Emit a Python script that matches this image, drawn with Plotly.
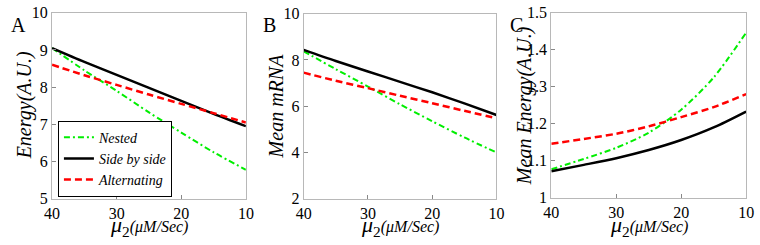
import plotly.graph_objects as go

mu2 = [40, 35, 30, 25, 20, 15, 10]
x_ticks = [40, 30, 20, 10]

# Panel A: Energy (A.U.)
energy_nested = [9.05, 8.45, 7.90, 7.32, 6.78, 6.25, 5.78]
energy_side = [9.05, 8.68, 8.33, 7.98, 7.63, 7.28, 6.95]
energy_alt = [8.60, 8.32, 8.06, 7.80, 7.55, 7.30, 7.05]

# Panel B: Mean mRNA
mrna_nested = [8.37, 7.60, 6.85, 6.08, 5.35, 4.65, 4.00]
mrna_side = [8.43, 7.95, 7.50, 7.05, 6.60, 6.12, 5.62]
mrna_alt = [7.45, 7.10, 6.78, 6.45, 6.13, 5.80, 5.48]

# Panel C: Mean Energy (A.U.)
menergy_nested = [1.077, 1.105, 1.135, 1.176, 1.238, 1.325, 1.446]
menergy_side = [1.072, 1.089, 1.107, 1.129, 1.156, 1.190, 1.233]
menergy_alt = [1.146, 1.159, 1.173, 1.193, 1.218, 1.245, 1.280]

series_names = ["Nested", "Side by side", "Alternating"]
panel_letters = ["A", "B", "C"]
y_titles = ["Energy(A.U.)", "Mean mRNA", "Mean Energy(A.U.)"]
y_ranges = [[5, 10.001], [2, 10.001], [0.9999, 1.5001]]
y_tickvals = [[5, 6, 7, 8, 9, 10], [2, 4, 6, 8, 10], [1, 1.1, 1.2, 1.3, 1.4, 1.5]]
y_ticktext = [["5", "6", "7", "8", "9", "10"], ["2", "4", "6", "8", "10"],
              ["1", "1.1", "1.2", "1.3", "1.4", "1.5"]]

SERIF = "Liberation Serif"
W, H = 760, 245

styles = [
    dict(color="#00ee00", width=2, dash="6px,3px,2px,3px"),
    dict(color="black", width=2.5, dash="solid"),
    dict(color="#ff0000", width=2.5, dash="7px,4px"),
]

panels = [
    [energy_nested, energy_side, energy_alt],
    [mrna_nested, mrna_side, mrna_alt],
    [menergy_nested, menergy_side, menergy_alt],
]

# pixel boxes of the axes (left, right, top, bottom)
boxes = [(45, 243, 5, 205), (302, 499, 6, 205), (555, 754, 5, 204)]

fig = go.Figure()
for i, (ys, box) in enumerate(zip(panels, boxes)):
    xa = "x" if i == 0 else f"x{i+1}"
    ya = "y" if i == 0 else f"y{i+1}"
    for j, (y, st) in enumerate(zip(ys, styles)):
        fig.add_trace(go.Scatter(
            x=mu2, y=y, mode="lines", line=dict(shape="spline", smoothing=0.8, **st),
            name=f"<i>{series_names[j]}</i>", showlegend=(i == 0),
            xaxis=xa, yaxis=ya, hoverinfo="skip",
        ))
    l, r, t, b = box
    axkw = dict(showline=True, mirror=True, linecolor="#b8b8b8", linewidth=1,
                ticks="inside", ticklen=4, tickcolor="#888", showgrid=False,
                zeroline=False, ticklabeloverflow="allow",
                tickfont=dict(family=SERIF, size=16, color="black"))
    xname = "xaxis" if i == 0 else f"xaxis{i+1}"
    yname = "yaxis" if i == 0 else f"yaxis{i+1}"
    fig.update_layout(**{
        xname: dict(domain=[l / W, r / W], range=[40, 10], tickvals=x_ticks,
                    anchor=ya, **axkw),
        yname: dict(domain=[1 - b / H, 1 - t / H], range=y_ranges[i],
                    tickvals=y_tickvals[i], ticktext=y_ticktext[i], anchor=xa, **axkw),
    })
    # panel letter
    fig.add_annotation(text=panel_letters[i], xref="paper", yref="paper",
                       x=(l - 44) / W, y=1 - 4 / H, xanchor="left", yanchor="top",
                       showarrow=False, font=dict(family=SERIF, size=20, color="black"))
    # y title
    fig.add_annotation(text=f"<i>{y_titles[i]}</i>", xref="paper", yref="paper",
                       x=(l - 28) / W, y=1 - (t + b) / 2 / H, textangle=-90,
                       xanchor="center", yanchor="middle", showarrow=False,
                       font=dict(family=SERIF, size=20, color="black"))
    # x title
    fig.add_annotation(
        text="<i>μ</i><sub>2</sub><i style='font-size:16px'>(μM/Sec)</i>",
        xref="paper", yref="paper", x=(l + r) / 2 / W, y=1 - 234 / H,
        xanchor="center", yanchor="middle", showarrow=False,
        font=dict(family=SERIF, size=22, color="black"))

fig.update_layout(
    width=W, height=H, margin=dict(l=0, r=0, t=0, b=0),
    paper_bgcolor="white", plot_bgcolor="white", hovermode=False,
    legend=dict(x=51 / W, y=1 - 121 / H, xanchor="left", yanchor="top",
                bordercolor="black", borderwidth=1, bgcolor="white",
                font=dict(family=SERIF, size=14, color="black"),
                tracegroupgap=0, itemwidth=30),
)

fig.write_html("out.html", config={"displayModeBar": False},
               post_script="document.body.style.margin='0';document.body.style.overflow='hidden';")
